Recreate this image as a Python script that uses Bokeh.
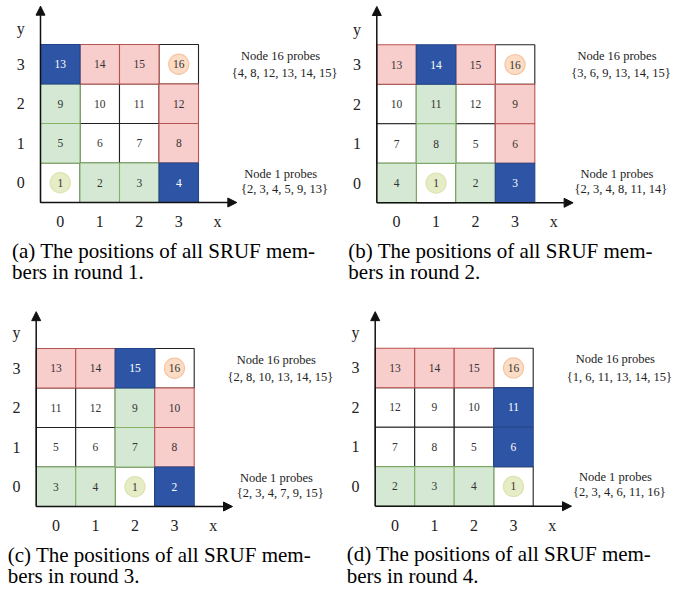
from bokeh.plotting import figure
from bokeh.models import Range1d, Arrow, NormalHead, ColumnDataSource
from bokeh.layouts import column, row
from bokeh.embed import file_html
from bokeh.resources import INLINE
from bokeh.core.properties import value

# ---------------- data ----------------
panel_letters = ["a", "b", "c", "d"]
round_numbers = [1, 2, 3, 4]
tick_labels = ["0", "1", "2", "3"]

# node ids per grid row, listed from top row (y=3) to bottom row (y=0)
grid_a = [[13, 14, 15, 16], [9, 10, 11, 12], [5, 6, 7, 8], [1, 2, 3, 4]]
grid_b = [[13, 14, 15, 16], [10, 11, 12, 9], [7, 8, 5, 6], [4, 1, 2, 3]]
grid_c = [[13, 14, 15, 16], [11, 12, 9, 10], [5, 6, 7, 8], [3, 4, 1, 2]]
grid_d = [[13, 14, 15, 16], [12, 9, 10, 11], [7, 8, 5, 6], [2, 3, 4, 1]]
grids = [grid_a, grid_b, grid_c, grid_d]

node1_probes = [[2, 3, 4, 5, 9, 13], [2, 3, 4, 8, 11, 14],
                [2, 3, 4, 7, 9, 15], [2, 3, 4, 6, 11, 16]]
node16_probes = [[4, 8, 12, 13, 14, 15], [3, 6, 9, 13, 14, 15],
                 [2, 8, 10, 13, 14, 15], [1, 6, 11, 13, 14, 15]]
probers = [1, 16]

# ---------------- style ----------------
SERIF = value("Liberation Serif")
S = 39.5  # pixels per grid cell
# (width, height, grid-left px, grid-bottom px from top, caption y offset)
geo = [(346, 308, 40.0, 202.0, -1.22), (346, 308, 30.3, 202.3, -1.22),
       (346, 289, 35.7, 198.0, -1.22), (346, 289, 28.7, 197.7, -1.22)]
LINE_GAP = 0.54

WHITE = ("#ffffff", "#222222", "#333333")
GREEN = ("#d5e8d4", "#82b366", "#333333")
PINK = ("#f8cecc", "#b85450", "#333333")
BLUE = ("#2e55a5", "#23458a", "#ffffff")


def make_panel(i):
    W, H, gx, gy, cy0 = geo[i]
    p = figure(width=W, height=H,
               x_range=Range1d(-gx / S, (W - gx) / S),
               y_range=Range1d(-(H - gy) / S, gy / S),
               output_backend="svg", toolbar_location=None,
               x_axis_type=None, y_axis_type=None, min_border=0)
    p.outline_line_color = None
    p.background_fill_color = "white"
    p.border_fill_color = "white"

    g = grids[i]
    n1 = set(node1_probes[i])
    n16 = set(node16_probes[i])
    layers = {"w": [], "g": [], "p": [], "b": []}
    for r, rowlist in enumerate(g):
        yy = 3 - r
        for c, node in enumerate(rowlist):
            if node in probers:
                k = "w"
            elif node in n1 and node in n16:
                k = "b"
            elif node in n1:
                k = "g"
            elif node in n16:
                k = "p"
            else:
                k = "w"
            layers[k].append((c, yy, node))
    styles = {"w": WHITE, "g": GREEN, "p": PINK, "b": BLUE}
    for k in ["w", "g", "p", "b"]:
        items = layers[k]
        if not items:
            continue
        fill, line, tcol = styles[k]
        src = ColumnDataSource(dict(
            left=[c for c, y, n in items], right=[c + 1 for c, y, n in items],
            bottom=[y for c, y, n in items], top=[y + 1 for c, y, n in items]))
        p.quad(left="left", right="right", bottom="bottom", top="top", source=src,
               fill_color=fill, line_color=line, line_width=1.1)
    # circles for node 1 and node 16
    circ = {1: ("#e5ecc6", "#dbe4b3"), 16: ("#fcdcc5", "#f5c4a4")}
    for r, rowlist in enumerate(g):
        for c, node in enumerate(rowlist):
            if node in circ:
                p.circle(x=[c + 0.5], y=[3 - r + 0.5], radius=0.255,
                         fill_color=circ[node][0], line_color=circ[node][1], line_width=1.2)
    # cell numbers
    for k in ["w", "g", "p", "b"]:
        items = layers[k]
        if not items:
            continue
        tcol = styles[k][2]
        p.text(x=[c + 0.5 for c, y, n in items], y=[y + 0.5 for c, y, n in items],
               text=[str(n) for c, y, n in items], text_align="center",
               text_baseline="middle", text_font=SERIF, text_font_size="11.5px",
               text_color=tcol)

    # axes arrows
    top_lim = gy / S - 0.08
    p.add_layout(Arrow(x_start=0, y_start=0, x_end=4.97, y_end=0, line_color="#111111",
                       line_width=1.5, end=NormalHead(size=9, fill_color="#111111",
                                                      line_color="#111111")))
    p.add_layout(Arrow(x_start=0, y_start=0, x_end=0, y_end=min(4.97, top_lim),
                       line_color="#111111", line_width=1.5,
                       end=NormalHead(size=9, fill_color="#111111", line_color="#111111")))

    # tick labels
    p.text(x=[k + 0.5 for k in range(4)], y=[-0.48] * 4, text=tick_labels,
           text_align="center", text_baseline="middle", text_font=SERIF,
           text_font_size="16px", text_color="#222222")
    p.text(x=[4.48], y=[-0.48], text=["x"], text_align="center", text_baseline="middle",
           text_font=SERIF, text_font_size="16px", text_color="#222222")
    p.text(x=[-0.5] * 4, y=[k + 0.5 for k in range(4)], text=tick_labels,
           text_align="center", text_baseline="middle", text_font=SERIF,
           text_font_size="16px", text_color="#222222")
    p.text(x=[-0.5], y=[4.4], text=["y"], text_align="center", text_baseline="middle",
           text_font=SERIF, text_font_size="16px", text_color="#222222")

    # probe annotations
    set16 = "{" + ", ".join(str(v) for v in node16_probes[i]) + "}"
    set1 = "{" + ", ".join(str(v) for v in node1_probes[i]) + "}"
    p.text(x=[6.08, 6.18], y=[3.72, 3.28], text=["Node 16 probes", set16],
           text_align="center", text_baseline="middle", text_font=SERIF,
           text_font_size="12.5px", text_color="#222222")
    p.text(x=[6.08, 6.18], y=[0.73, 0.35], text=["Node 1 probes", set1],
           text_align="center", text_baseline="middle", text_font=SERIF,
           text_font_size="12.5px", text_color="#222222")

    # caption
    cap1 = "(" + panel_letters[i] + ") The positions of all SRUF mem-"
    cap2 = "bers in round " + str(round_numbers[i]) + "."
    p.text(x=[-0.72, -0.72], y=[cy0, cy0 - LINE_GAP], text=[cap1, cap2],
           text_align="left", text_baseline="middle", text_font=SERIF,
           text_font_size="21px", text_color="#000000")
    return p


panels = [make_panel(i) for i in range(4)]
layout = column(row(panels[0], panels[1]), row(panels[2], panels[3]))
open("out.html", "w").write(file_html(layout, INLINE))
